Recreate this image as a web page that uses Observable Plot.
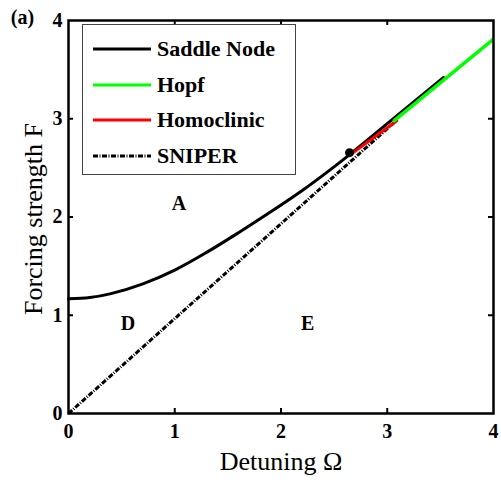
<!DOCTYPE html>
<html><head><meta charset="utf-8">
<script src="https://cdn.jsdelivr.net/npm/d3@7"></script>
<script src="https://cdn.jsdelivr.net/npm/@observablehq/plot@0.6"></script>
<style>
body{margin:0;background:#fff;}
#wrap{position:relative;width:501px;height:483px;}
#legend{position:absolute;left:82px;top:24px;width:214px;height:151px;border:1px solid #444;background:#fff;box-sizing:border-box;font-family:"Liberation Serif",serif;font-weight:bold;font-size:22px;color:#000;}
.row{position:absolute;left:10px;display:flex;align-items:center;height:30px;white-space:nowrap;}
.row svg{margin-right:6px;}
</style></head><body><div id="wrap"></div>
<script>
// Tick values
const xTicks = [0, 1, 2, 3, 4];
const yTicks = [0, 1, 2, 3, 4];

// Saddle-node curve
const saddleX = [0, 0.2, 0.4, 0.7, 1.0, 1.3, 1.6, 1.9, 2.2, 2.45, 2.64, 3.0, 3.53];
const saddleF = [1.167, 1.18, 1.22, 1.32, 1.46, 1.64, 1.84, 2.05, 2.27, 2.47, 2.63, 2.95, 3.42];

// Hopf line
const hopfX = [3.066, 4.0];
const hopfF = [2.98, 3.81];

// Homoclinic line
const homoX = [2.68, 3.09];
const homoF = [2.655, 2.98];

// SNIPER line
const sniperX = [0, 3.08];
const sniperF = [0, 2.975];

// Special point
const pointX = [2.645];
const pointF = [2.655];

// Region labels
const regionText = ["A", "D", "E"];
const regionX = [1.04, 0.56, 2.25];
const regionF = [2.14, 0.92, 0.92];

// Legend
const legendNames = ["Saddle Node", "Hopf", "Homoclinic", "SNIPER"];
const legendColors = ["#000000", "#00ff00", "#ff0000", "#000000"];
const legendDash = [null, null, null, "5,1.5,1,1.5"];

const toRows = (xs, ys) => xs.map((x, i) => ({x, y: ys[i]}));
const saddle = toRows(saddleX, saddleF);
const hopf = toRows(hopfX, hopfF);
const homo = toRows(homoX, homoF);
const sniper = toRows(sniperX, sniperF);
const pts = toRows(pointX, pointF);
const regions = regionText.map((t, i) => ({t, x: regionX[i], y: regionF[i]}));

const W = 501, H = 483, mL = 68, mR = 8, mT = 20, mB = 70;
const pw = W - mL - mR, ph = H - mT - mB;
const font = {fontFamily: "Liberation Serif", fontSize: 20, fontWeight: "bold"};

const chart = Plot.plot({
  width: W, height: H,
  marginLeft: mL, marginRight: mR, marginTop: mT, marginBottom: mB,
  x: {domain: [0, 4]},
  y: {domain: [0, 4]},
  style: {fontFamily: "Liberation Serif", background: "white", overflow: "visible"},
  marks: [
    Plot.line(sniper, {x: "x", y: "y", stroke: "black", strokeWidth: 3, strokeDasharray: "5,1.5,1,1.5", strokeLinecap: "butt"}),
    Plot.line(saddle, {x: "x", y: "y", stroke: "black", strokeWidth: 3, curve: "catmull-rom"}),
    Plot.line(homo, {x: "x", y: "y", stroke: "#ff0000", strokeWidth: 3}),
    Plot.line(hopf, {x: "x", y: "y", stroke: "#00ff00", strokeWidth: 3.5, clip: true}),
    Plot.dot(pts, {x: "x", y: "y", r: 4.5, fill: "black", stroke: "none"}),
    Plot.text(regions, {x: "x", y: "y", text: "t", ...font, fill: "black"}),
    Plot.axisX({ticks: xTicks, tickSize: 0, tickPadding: 10, label: null, ...font, fill: "black", tickFormat: d => String(d)}),
    Plot.axisY({ticks: yTicks, tickSize: 0, tickPadding: 6, label: null, ...font, fill: "black", tickFormat: d => String(d)}),
    Plot.ruleX(xTicks.slice(1, -1), {insetTop: ph - 5, stroke: "black", strokeWidth: 2}),
    Plot.ruleX(xTicks.slice(1, -1), {insetBottom: ph - 5, stroke: "black", strokeWidth: 2}),
    Plot.ruleY(yTicks.slice(1, -1), {insetRight: pw - 5, stroke: "black", strokeWidth: 2}),
    Plot.ruleY(yTicks.slice(1, -1), {insetLeft: pw - 5, stroke: "black", strokeWidth: 2}),
    Plot.frame({stroke: "black", strokeWidth: 2.5}),
    Plot.text(["Detuning Ω"], {frameAnchor: "bottom", textAnchor: "middle", lineAnchor: "middle", dy: 48, fontFamily: "Liberation Serif", fontSize: 26, fill: "black"}),
    Plot.text(["Forcing strength F"], {frameAnchor: "left", textAnchor: "middle", lineAnchor: "middle", dx: -35, dy: 2, rotate: -90, fontFamily: "Liberation Serif", fontSize: 26, fill: "black"}),
    Plot.text(["(a)"], {frameAnchor: "top-left", textAnchor: "middle", lineAnchor: "middle", dx: -46, dy: -3, ...font, fill: "black"})
  ]
});

const wrap = document.getElementById("wrap");
wrap.appendChild(chart);

const legend = document.createElement("div");
legend.id = "legend";
legendNames.forEach((name, i) => {
  const row = document.createElement("div");
  row.className = "row";
  row.style.top = (9 + i * 35.5) + "px";
  const dash = legendDash[i] ? `stroke-dasharray="${legendDash[i]}"` : "";
  row.innerHTML = `<svg width="58" height="6"><line x1="0" x2="58" y1="3" y2="3" stroke="${legendColors[i]}" stroke-width="3" ${dash}/></svg><span>${name}</span>`;
  legend.appendChild(row);
});
wrap.appendChild(legend);
</script>
</body></html>
